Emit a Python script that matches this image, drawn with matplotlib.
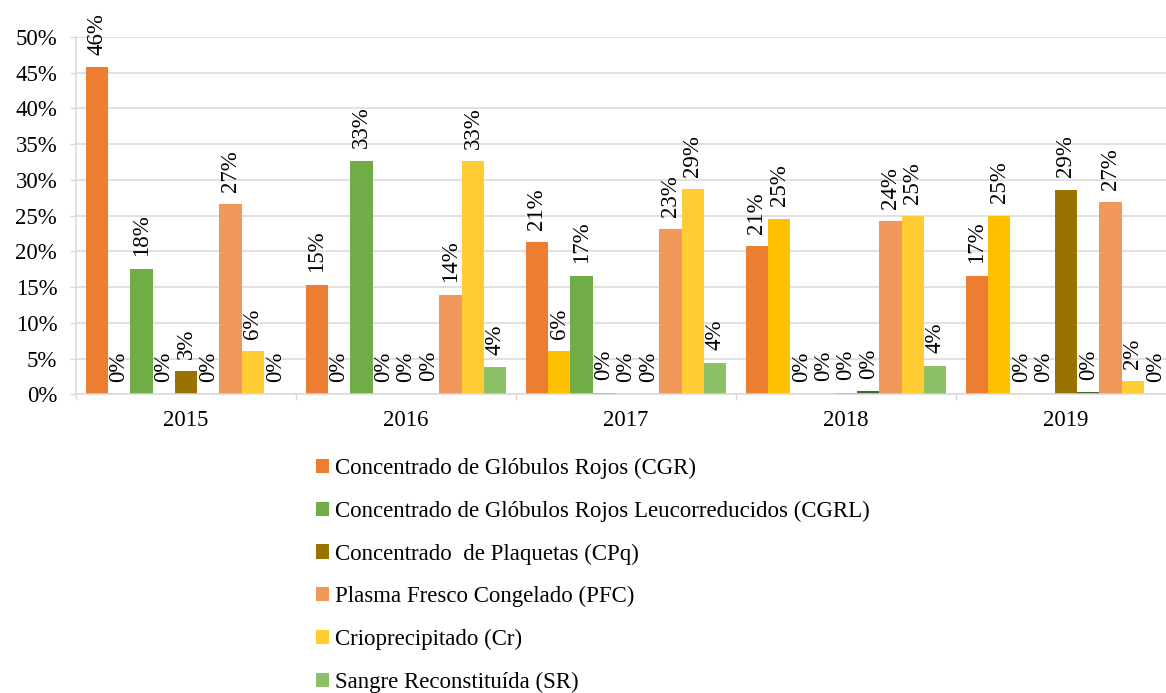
import numpy as np
import matplotlib.pyplot as plt
from matplotlib.patches import Patch
from matplotlib.ticker import FuncFormatter

plt.rcParams["font.family"] = ["Liberation Serif", "DejaVu Serif"]

# ==========================================================
# DATA (% per year)
# ==========================================================

years = ["2015", "2016", "2017", "2018", "2019"]

cgr  = [45.8, 15.3, 21.3, 20.7, 16.6]
s2   = [0.0, 0.0, 6.0, 24.6, 25.0]      # serie sin leyenda
cgrl = [17.6, 32.7, 16.6, 0.0, 0.0]
s4   = [0.0, 0.0, 0.2, 0.1, 0.0]        # serie sin leyenda
cpq  = [3.2, 0.0, 0.0, 0.2, 28.6]
s6   = [0.0, 0.1, 0.0, 0.4, 0.3]        # serie sin leyenda
pfc  = [26.6, 13.9, 23.1, 24.2, 26.9]
cr   = [6.0, 32.6, 28.7, 24.9, 1.8]
sr   = [0.0, 3.8, 4.4, 4.0, 0.0]

series = [cgr, s2, cgrl, s4, cpq, s6, pfc, cr, sr]

labels = [
    "Concentrado de Glóbulos Rojos (CGR)",
    None,
    "Concentrado de Glóbulos Rojos Leucorreducidos (CGRL)",
    None,
    "Concentrado  de Plaquetas (CPq)",
    None,
    "Plasma Fresco Congelado (PFC)",
    "Crioprecipitado (Cr)",
    "Sangre Reconstituída (SR)",
]

colors = [
    "#ED7D31", "#FFC000", "#70AD47",
    "#9E480E", "#997300", "#43682B",
    "#F1975A", "#FFCD33", "#8CC168",
]

FS = 16.5
GRID = "#D9D9D9"

# ==========================================================
# PLOT
# ==========================================================

fig = plt.figure(figsize=(11.66, 6.93), dpi=100)

ax = fig.add_axes([
    76/1166,
    (693-394.3)/693,
    1100/1166,
    357.3/693
])

x = np.arange(len(years))
w = 0.1015
n = len(series)

for i, vals in enumerate(series):

    pos = x + (i - (n-1)/2)*w

    ax.bar(
        pos,
        vals,
        width=w,
        color=colors[i],
        linewidth=0,
        zorder=2
    )

    for px, v in zip(pos, vals):
        ax.annotate(
            f"{v:.0f}%",
            xy=(px, v),
            xytext=(0, 9),
            textcoords="offset points",
            rotation=90,
            ha="center",
            va="bottom",
            fontsize=FS,
            annotation_clip=False
        )

ax.set_xlim(-0.5, len(years)-0.5)
ax.set_ylim(0, 50)

ax.set_yticks(np.arange(0, 51, 5))
ax.yaxis.set_major_formatter(FuncFormatter(lambda v, p: f"{v:.0f}%"))

ax.set_xticks(x)
ax.set_xticklabels(years)
ax.set_xticks(np.arange(-0.5, len(years), 1), minor=True)

ax.tick_params(axis="x", which="major", length=0, pad=11, labelsize=FS)
ax.tick_params(axis="x", which="minor", length=4.5, color=GRID, width=1)
ax.tick_params(axis="y", length=4.5, color=GRID, width=1, pad=9, labelsize=FS)

ax.yaxis.grid(True, color=GRID, linewidth=1.1)
ax.set_axisbelow(True)

for s in ["top", "right"]:
    ax.spines[s].set_visible(False)
for s in ["left", "bottom"]:
    ax.spines[s].set_color(GRID)
    ax.spines[s].set_linewidth(1.1)

# ----------------------------------------------------------
# legend (only the named series)
# ----------------------------------------------------------

handles = []
names = []
for c, lab in zip(colors, labels):
    if lab is None:
        continue
    handles.append(Patch(facecolor=c, edgecolor="none"))
    names.append(lab)

fig.legend(
    handles,
    names,
    loc="upper left",
    bbox_to_anchor=(316/1166, 1 - 458/693),
    frameon=False,
    fontsize=FS,
    handlelength=0.57,
    handleheight=0.57,
    handletextpad=0.25,
    labelspacing=0.94,
    borderpad=0,
    borderaxespad=0
)

fig.savefig("out.png", dpi=100)
